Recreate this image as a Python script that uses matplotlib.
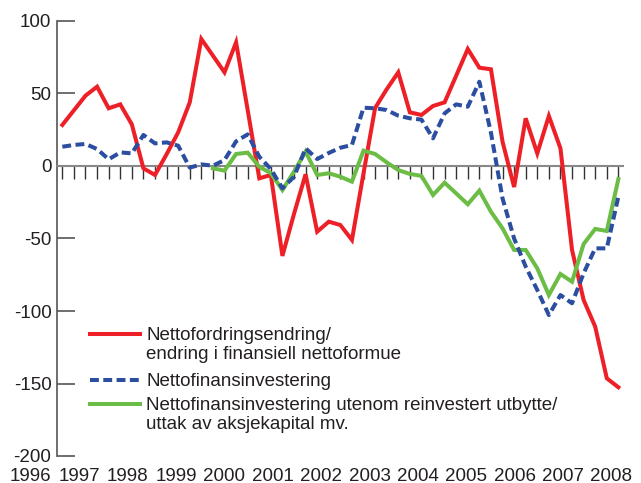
import numpy as np
import matplotlib
matplotlib.use("Agg")
import matplotlib.pyplot as plt
from matplotlib.lines import Line2D
from matplotlib.transforms import blended_transform_factory

plt.rcParams['font.family'] = ['Liberation Sans', 'DejaVu Sans']
plt.rcParams['axes.unicode_minus'] = False

# kvartalstall 1996K1 - 2008K1
quarters = np.arange(49)
years = [str(y) for y in range(1996, 2009)]

netto_fordring = [28.3, 38.4, 48.5, 54.7, 39.8, 42.5, 28.7, -1.6, -6.2, 8.1,
                  23.2, 43.9, 87.6, 76.1, 64.6, 85.3, 38.6, -8.5, -6.2, -62,
                  -33, -5.7, -45.3, -38.4, -40.7, -51, -5, 40, 52.9, 64.6,
                  37, 35.2, 41.4, 43.9, 62.3, 80.7, 67.8, 66.7, 16.8, -14.5,
                  32.9, 8.7, 34.5, 12.2, -57.9, -92.4, -110.8, -146.4, -152.6]

netto_fin_inv = [13.3, 14.5, 15.2, 11.7, 4.6, 9.4, 8.7, 21.4, 15.6, 16.3,
                 14, -1.1, 1.1, 0.2, 4.1, 17, 21.8, 6.4, -2.1, -15.4,
                 -7.4, 12.2, 4.8, 9, 12.6, 14.5, 40.2, 39.8, 38.6, 34.7,
                 32.9, 32, 19.1, 36.3, 42.5, 40.9, 58.1, 23, -22.3, -50,
                 -69.4, -85.5, -102.8, -89, -94.7, -74, -56.8, -56.8, -21.2]

netto_fin_inv_utenom = [np.nan] * 13 + [
    -1.6, -3.2, 8.3, 9.2, -0.5, -5, -16.6, -3.9, 9.9, -6.2,
    -5, -7.4, -10.8, 10.6, 8.3, 2.5, -2.8, -5.5, -6.8, -20,
    -11.5, -18.9, -26.4, -17, -31.5, -43, -57.9, -57.9, -70.6, -89,
    -74.5, -79.8, -53.8, -43.4, -44.8, -9]

labels = ["Nettofordringsendring/\nendring i finansiell nettoformue",
          "Nettofinansinvestering",
          "Nettofinansinvestering utenom reinvestert utbytte/\nuttak av aksjekapital mv."]

red = '#ee2027'
blue = '#2c4ea1'
green = '#6cbd45'

fig = plt.figure(figsize=(6.41, 4.83), dpi=100)
ax = fig.add_axes([57 / 641, 27 / 483, 566 / 641, 435 / 483])

ax.plot(quarters, netto_fordring, color=red, lw=2.9, solid_joinstyle='miter', zorder=3)
ax.plot(quarters, netto_fin_inv_utenom, color=green, lw=2.9, solid_joinstyle='miter', zorder=4)
ax.plot(quarters, netto_fin_inv, color=blue, lw=2.9, dashes=(2.2, 1.1),
        dash_capstyle='butt', zorder=5)

ax.set_xlim(-0.46, 48.4)
ax.set_ylim(-200, 100)

for s in ['top', 'right']:
    ax.spines[s].set_visible(False)
ax.spines['left'].set_color('#555555')
ax.spines['left'].set_linewidth(1.2)
ax.spines['bottom'].set_position(('data', 0))
ax.spines['bottom'].set_color('#888888')
ax.spines['bottom'].set_linewidth(1.5)

ax.set_yticks([100, 50, 0, -50, -100, -150, -200])
ax.tick_params(axis='y', direction='in', length=13, width=1.2, color='#555555',
               labelsize=13.5, pad=4, labelcolor='#231f20')
ax.set_xticks(quarters)
ax.set_xticklabels([])
ax.tick_params(axis='x', direction='out', length=9, width=1.0, color='#333333')

# aarstall under aksen
trans = blended_transform_factory(ax.transData, ax.transAxes)
for k, yr in enumerate(years):
    ax.text(-2.71 + k * 4.176, -0.046, yr, transform=trans, ha='center', va='center',
            fontsize=13.5, color='#231f20', clip_on=False)

# forklaring
def fy(y):
    return 1 - y / 483

for col, dash, yl, txt in [(red, None, 334, labels[0]), (blue, (2.2, 1.1), 380, labels[1]),
                           (green, None, 404, labels[2])]:
    ln = Line2D([90 / 641, 140 / 641], [fy(yl), fy(yl)], color=col, lw=2.9,
                transform=fig.transFigure)
    if dash:
        ln.set_dashes(dash)
        ln.set_dash_capstyle('butt')
    fig.add_artist(ln)
    fig.text(146 / 641, fy(yl - 7), txt, ha='left', va='top', fontsize=13.5,
             color='#231f20', linespacing=1.12, transform=fig.transFigure)

fig.savefig('out.png', dpi=100)
